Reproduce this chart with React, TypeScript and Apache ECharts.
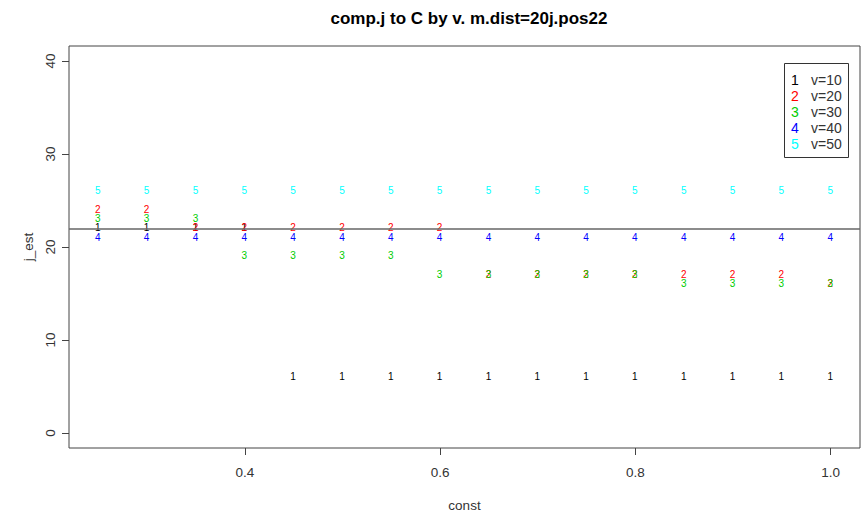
import React, { useEffect, useRef } from "react";
import * as echarts from "echarts";

const xValues = [0.25, 0.3, 0.35, 0.4, 0.45, 0.5, 0.55, 0.6, 0.65, 0.7, 0.75, 0.8, 0.85, 0.9, 0.95, 1.0];
const v10 = [22, 22, 22, 22, 6, 6, 6, 6, 6, 6, 6, 6, 6, 6, 6, 6];
const v20 = [24, 24, 22, 22, 22, 22, 22, 22, 17, 17, 17, 17, 17, 17, 17, 16];
const v30 = [23, 23, 23, 19, 19, 19, 19, 17, 17, 17, 17, 17, 16, 16, 16, 16];
const v40 = [21, 21, 21, 21, 21, 21, 21, 21, 21, 21, 21, 21, 21, 21, 21, 21];
const v50 = [26, 26, 26, 26, 26, 26, 26, 26, 26, 26, 26, 26, 26, 26, 26, 26];
const seriesLabels = ["v=10", "v=20", "v=30", "v=40", "v=50"];
const seriesSymbols = ["1", "2", "3", "4", "5"];
const seriesColors = ["#000000", "#FF0000", "#00CD00", "#0000FF", "#00FFFF"];
const xTicks = [0.4, 0.6, 0.8, 1.0];
const yTicks = [0, 10, 20, 30, 40];
const refLine = 22;

const FONT = "'Liberation Sans', Arial, sans-serif";

export default function App() {
  const ref = useRef<HTMLDivElement>(null);
  useEffect(() => {
    if (!ref.current) return;
    const chart = echarts.init(ref.current, null, { renderer: "svg" });
    const all = [v10, v20, v30, v40, v50];
    const series: any[] = all.map((vals, i) => ({
      type: "scatter",
      name: seriesLabels[i],
      data: vals.map((v, j) => [xValues[j], v]),
      symbol: "circle",
      symbolSize: 1,
      itemStyle: { color: seriesColors[i], opacity: 0.001 },
      label: {
        show: true,
        position: [0, 0],
        align: "center",
        verticalAlign: "middle",
        formatter: seriesSymbols[i],
        color: seriesColors[i],
        textBorderWidth: 0,
        textBorderColor: "transparent",
        opacity: 1,
        fontSize: 10,
        fontFamily: FONT,
      },
      labelLayout: { hideOverlap: false },
      z: 3,
    }));
    series[0].markLine = {
      silent: true,
      symbol: "none",
      label: { show: false },
      lineStyle: { color: "#666", width: 1.5, type: "solid", opacity: 1 },
      data: [{ yAxis: refLine }],
    };

    const legendX = 784, legendY = 63, rowH = 16;
    const legendGraphics: any[] = [
      {
        type: "rect",
        shape: { x: legendX + 0.5, y: legendY + 0.5, width: 64, height: 94 },
        style: { fill: "#fff", stroke: "#333", lineWidth: 1 },
        z: 10,
      },
    ];
    seriesLabels.forEach((lab, i) => {
      const cy = legendY + 17 + i * rowH;
      legendGraphics.push({
        type: "text",
        x: legendX + 7,
        y: cy,
        style: { text: seriesSymbols[i], fill: seriesColors[i], font: `14px ${FONT}`, verticalAlign: "middle", align: "left" },
        z: 11,
      });
      legendGraphics.push({
        type: "text",
        x: legendX + 27,
        y: cy,
        style: { text: lab, fill: "#333", font: `14px ${FONT}`, verticalAlign: "middle", align: "left" },
        z: 11,
      });
    });

    chart.setOption({
      animation: false,
      backgroundColor: "#fff",
      title: {
        text: "comp.j to C by v. m.dist=20j.pos22",
        left: 464,
        top: 5,
        textAlign: "center",
        textStyle: { fontFamily: FONT, fontSize: 17, fontWeight: "bold", color: "#000" },
      },
      grid: {
        left: 69,
        right: 2,
        top: 46,
        bottom: 64,
        outerBoundsMode: "none",
        containLabel: false,
        show: true,
        borderColor: "#444",
        borderWidth: 1,
        backgroundColor: "transparent",
      },
      xAxis: {
        type: "value",
        min: 0.22,
        max: 1.03,
        name: "const",
        nameLocation: "middle",
        nameGap: 50,
        nameTextStyle: { fontFamily: FONT, fontSize: 13.5, color: "#333" },
        axisLine: { show: false, onZero: false },
        splitLine: { show: false },
        axisTick: { show: true, customValues: xTicks, length: 7, lineStyle: { color: "#444" } },
        axisLabel: {
          customValues: xTicks,
          formatter: (v: number) => v.toFixed(1),
          fontFamily: FONT,
          fontSize: 13.5,
          color: "#333",
          margin: 17,
        },
      },
      yAxis: {
        type: "value",
        min: -1.6,
        max: 41.6,
        name: "j_est",
        nameLocation: "middle",
        nameGap: 34,
        nameRotate: 90,
        nameTextStyle: { fontFamily: FONT, fontSize: 13.5, color: "#333" },
        axisLine: { show: false, onZero: false },
        splitLine: { show: false },
        axisTick: { show: true, customValues: yTicks, length: 7, lineStyle: { color: "#444" } },
        axisLabel: {
          customValues: yTicks,
          rotate: 90,
          fontFamily: FONT,
          fontSize: 13.5,
          color: "#333",
          margin: 12,
        },
      },
      series,
      graphic: legendGraphics,
    });
    return () => chart.dispose();
  }, []);
  return <div ref={ref} style={{ width: 862, height: 512, position: "absolute", left: 0, top: 0 }} />;
}
